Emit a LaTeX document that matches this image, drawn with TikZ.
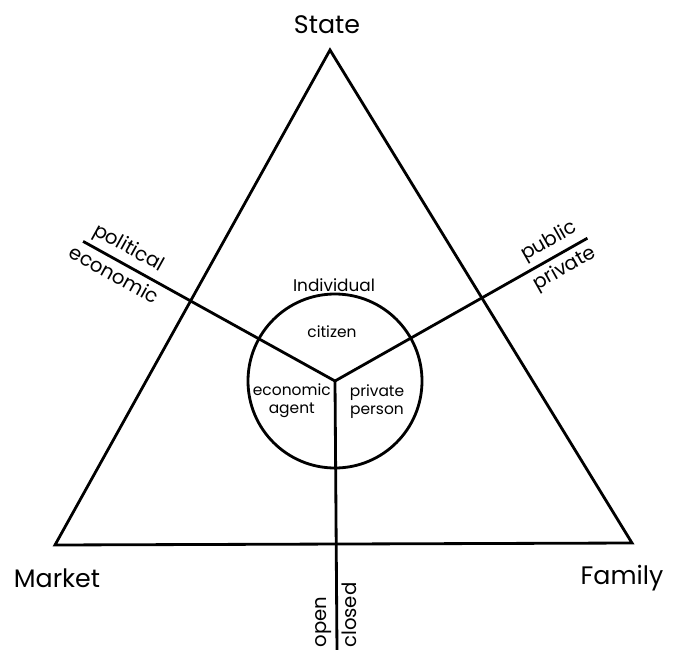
\documentclass[tikz,border=0pt]{standalone}
\usepackage{fontspec}
\setmainfont{Poppins}

\begin{document}
\begin{tikzpicture}[line width=2pt,
  corner/.style={font=\fontsize{18}{20}\selectfont},
  inner/.style={font=\fontsize{11}{12.8}\selectfont, align=center},
  axis/.style={font=\fontsize{14}{15}\selectfont, inner sep=3pt}]
  \useasboundingbox (-8.375,-6.7) rectangle (8.55,9.525);
  % triangle
  \coordinate (hub) at (0,0);
  \coordinate (top) at (-0.125,8.275);
  \coordinate (left) at (-7.0,-4.1);
  \coordinate (right) at (7.425,-4.05);
  \draw[line join=miter] (top) -- (left) -- (right) -- cycle;
  \node[corner] (state) at (-0.2,8.9) {State};
  \node[corner] (market) at (-6.95,-4.925) {Market};
  \node[corner] (family) at (7.175,-4.925) {Family};
  % individual
  \node[draw, circle, minimum size=4.35cm, inner sep=0pt] (indiv) at (hub) {};
  \node[font=\fontsize{12}{14}\selectfont] (indlbl) at (-0.025,2.4) {Individual};
  \node[inner] (citizen) at (-0.075,1.225) {citizen};
  \node[inner] (econ) at (-1.08,-0.5) {economic\\agent};
  \node[inner] (priv) at (1.05,-0.52) {private\\person};
  % spokes
  \coordinate (polend) at (151:7.2);
  \coordinate (pubend) at (29.5:7.25);
  \coordinate (opnend) at (0.05,-6.75);
  \draw (polend) -- (hub) node[axis, sloped, pos=0.15, above] {political} node[axis, sloped, pos=0.15, below] {economic};
  \draw (hub) -- (pubend) node[axis, sloped, pos=0.88, above] {public} node[axis, sloped, pos=0.88, below] {private};
  \draw (opnend) -- (hub) node[axis, rotate=90, pos=0.107, above] {open} node[axis, rotate=90, pos=0.133, below] {closed};
\end{tikzpicture}
\end{document}
